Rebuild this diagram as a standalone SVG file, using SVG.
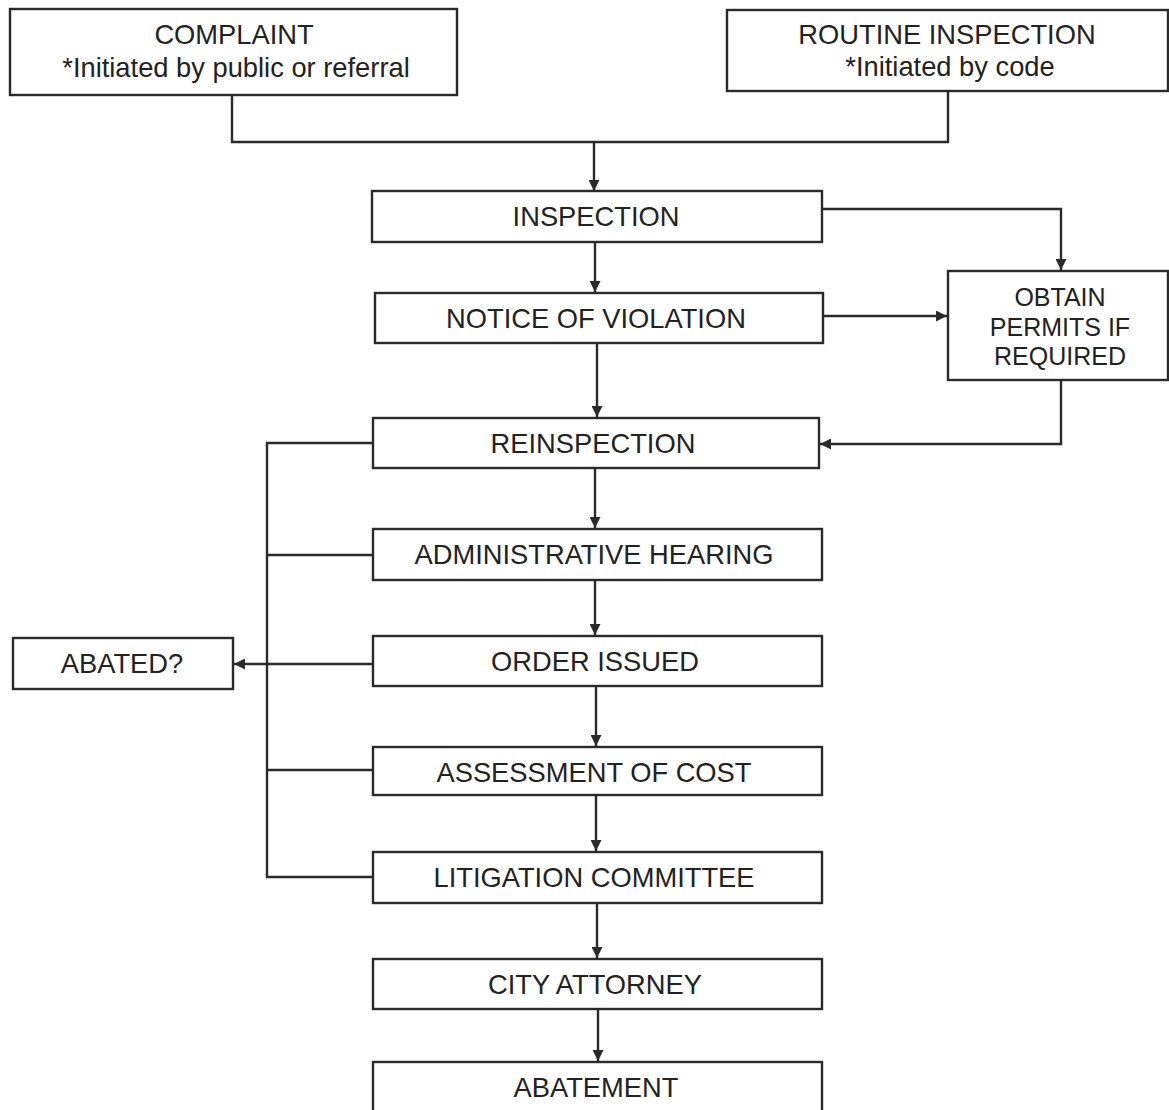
<svg xmlns="http://www.w3.org/2000/svg" width="1169" height="1110" viewBox="0 0 1169 1110">
<style>
.box{fill:#fff;stroke:#2a2a2a;stroke-width:2.4}
.t{font-family:"Liberation Sans",Arial,sans-serif;font-size:27.3px;fill:#222;text-anchor:middle}
.s{font-size:25px}
.c{fill:none;stroke:#2a2a2a;stroke-width:2.4}
</style>
<defs>
<marker id="ah" viewBox="0 0 10 10" refX="10" refY="5" markerWidth="11" markerHeight="11" markerUnits="userSpaceOnUse" orient="auto">
<path d="M0,0 L10,5 L0,10 z" fill="#2a2a2a"/>
</marker>
</defs>
<rect width="1169" height="1110" fill="#fff"/>
<g id="connectors">
<path class="c" d="M232,95 V142 H948 V91"/>
<path class="c" d="M594,142 V191" marker-end="url(#ah)"/>
<path class="c" d="M822,209 H1061 V270" marker-end="url(#ah)"/>
<path class="c" d="M595,242 V292" marker-end="url(#ah)"/>
<path class="c" d="M823,316 H947" marker-end="url(#ah)"/>
<path class="c" d="M597,343 V417" marker-end="url(#ah)"/>
<path class="c" d="M1061,380 V444 H820" marker-end="url(#ah)"/>
<path class="c" d="M595,468 V528" marker-end="url(#ah)"/>
<path class="c" d="M595,580 V635" marker-end="url(#ah)"/>
<path class="c" d="M596,686 V746" marker-end="url(#ah)"/>
<path class="c" d="M596,795 V851" marker-end="url(#ah)"/>
<path class="c" d="M597,903 V958" marker-end="url(#ah)"/>
<path class="c" d="M598,1009 V1061" marker-end="url(#ah)"/>
<path class="c" d="M373,443 H267 V877 H373"/>
<path class="c" d="M267,555 H373"/>
<path class="c" d="M267,770 H373"/>
<path class="c" d="M373,664 H234" marker-end="url(#ah)"/>
</g>
<g id="complaint"><rect class="box" x="10" y="9" width="447" height="86"/>
<text class="t" x="234" y="44">COMPLAINT</text><text class="t" x="236" y="77">*Initiated by public or referral</text></g>
<g id="routine"><rect class="box" x="727" y="10" width="441" height="81"/>
<text class="t" x="947" y="44">ROUTINE INSPECTION</text><text class="t" x="950" y="76">*Initiated by code</text></g>
<g id="inspection"><rect class="box" x="372" y="191" width="450" height="51"/><text class="t" x="596" y="226">INSPECTION</text></g>
<g id="notice"><rect class="box" x="375" y="293" width="448" height="50"/><text class="t" x="596" y="328">NOTICE OF VIOLATION</text></g>
<g id="permits"><rect class="box" x="948" y="271" width="220" height="109"/>
<text class="t s" x="1060" y="306">OBTAIN</text><text class="t s" x="1060" y="336">PERMITS IF</text><text class="t s" x="1060" y="365">REQUIRED</text></g>
<g id="reinspection"><rect class="box" x="373" y="418" width="446" height="50"/><text class="t" x="593" y="453">REINSPECTION</text></g>
<g id="hearing"><rect class="box" x="373" y="529" width="449" height="51"/><text class="t" x="594" y="564">ADMINISTRATIVE HEARING</text></g>
<g id="abated"><rect class="box" x="13" y="638" width="220" height="51"/><text class="t" x="122" y="673">ABATED?</text></g>
<g id="order"><rect class="box" x="373" y="636" width="449" height="50"/><text class="t" x="595" y="671">ORDER ISSUED</text></g>
<g id="assessment"><rect class="box" x="373" y="747" width="449" height="48"/><text class="t" x="594" y="782">ASSESSMENT OF COST</text></g>
<g id="litigation"><rect class="box" x="373" y="852" width="449" height="51"/><text class="t" x="594" y="887">LITIGATION COMMITTEE</text></g>
<g id="attorney"><rect class="box" x="373" y="959" width="449" height="50"/><text class="t" x="595" y="994">CITY ATTORNEY</text></g>
<g id="abatement"><rect class="box" x="373" y="1062" width="449" height="60"/><text class="t" x="596" y="1097">ABATEMENT</text></g>
</svg>
